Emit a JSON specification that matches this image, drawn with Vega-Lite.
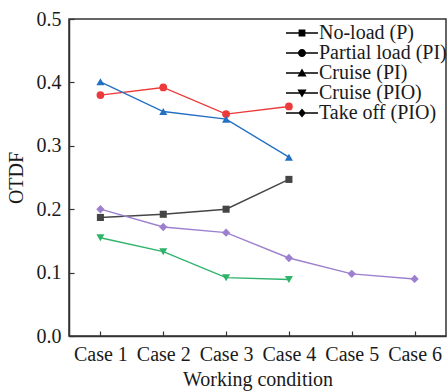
{
  "$schema": "https://vega.github.io/schema/vega-lite/v6.json",
  "width": 377,
  "height": 317,
  "autosize": "none",
  "padding": {"left": 69, "top": 19, "right": 2, "bottom": 55},
  "background": "white",
  "config": {
    "font": "Liberation Serif",
    "view": {"stroke": "#333333", "strokeWidth": 1.5},
    "axis": {
      "grid": false,
      "domainColor": "#333333",
      "domainWidth": 1.5,
      "tickColor": "#333333",
      "tickWidth": 1.2,
      "tickSize": -5,
      "labelFont": "Liberation Serif",
      "labelFontSize": 20,
      "labelColor": "#1a1a1a",
      "titleFont": "Liberation Serif",
      "titleFontSize": 20,
      "titleFontWeight": "normal",
      "titleColor": "#1a1a1a"
    }
  },
  "data": {
    "values": [
      {"series": "No-load (P)", "case": "Case 1", "otdf": 0.187},
      {"series": "No-load (P)", "case": "Case 2", "otdf": 0.192},
      {"series": "No-load (P)", "case": "Case 3", "otdf": 0.200},
      {"series": "No-load (P)", "case": "Case 4", "otdf": 0.247},
      {"series": "Partial load (PI)", "case": "Case 1", "otdf": 0.380},
      {"series": "Partial load (PI)", "case": "Case 2", "otdf": 0.392},
      {"series": "Partial load (PI)", "case": "Case 3", "otdf": 0.350},
      {"series": "Partial load (PI)", "case": "Case 4", "otdf": 0.362},
      {"series": "Cruise (PI)", "case": "Case 1", "otdf": 0.401},
      {"series": "Cruise (PI)", "case": "Case 2", "otdf": 0.354},
      {"series": "Cruise (PI)", "case": "Case 3", "otdf": 0.342},
      {"series": "Cruise (PI)", "case": "Case 4", "otdf": 0.282},
      {"series": "Cruise (PIO)", "case": "Case 1", "otdf": 0.155},
      {"series": "Cruise (PIO)", "case": "Case 2", "otdf": 0.133},
      {"series": "Cruise (PIO)", "case": "Case 3", "otdf": 0.092},
      {"series": "Cruise (PIO)", "case": "Case 4", "otdf": 0.089},
      {"series": "Take off (PIO)", "case": "Case 1", "otdf": 0.200},
      {"series": "Take off (PIO)", "case": "Case 2", "otdf": 0.172},
      {"series": "Take off (PIO)", "case": "Case 3", "otdf": 0.163},
      {"series": "Take off (PIO)", "case": "Case 4", "otdf": 0.123},
      {"series": "Take off (PIO)", "case": "Case 5", "otdf": 0.098},
      {"series": "Take off (PIO)", "case": "Case 6", "otdf": 0.090}
    ]
  },
  "encoding": {
    "x": {
      "field": "case",
      "type": "ordinal",
      "sort": ["Case 1", "Case 2", "Case 3", "Case 4", "Case 5", "Case 6"],
      "scale": {"type": "point", "padding": 0.5},
      "axis": {"title": "Working condition", "labelAngle": 0, "labelPadding": 13, "titlePadding": 5}
    },
    "y": {
      "field": "otdf",
      "type": "quantitative",
      "scale": {"domain": [0, 0.5], "nice": false},
      "axis": {"title": "OTDF", "values": [0, 0.1, 0.2, 0.3, 0.4, 0.5], "format": ".1f", "labelPadding": 13, "titlePadding": 10}
    },
    "color": {
      "field": "series",
      "type": "nominal",
      "scale": {
        "domain": ["No-load (P)", "Partial load (PI)", "Cruise (PI)", "Cruise (PIO)", "Take off (PIO)"],
        "range": ["#454545", "#ec3a3a", "#2470c4", "#2eb36b", "#9c80cf"]
      },
      "legend": null
    }
  },
  "layer": [
    {"mark": {"type": "line", "strokeWidth": 1.4}},
    {
      "transform": [{"filter": "datum.series == 'No-load (P)'"}],
      "mark": {"type": "point", "filled": true, "opacity": 1, "size": 50, "shape": "square"}
    },
    {
      "transform": [{"filter": "datum.series == 'Partial load (PI)'"}],
      "mark": {"type": "point", "filled": true, "opacity": 1, "size": 60, "shape": "circle"}
    },
    {
      "transform": [{"filter": "datum.series == 'Cruise (PI)'"}],
      "mark": {"type": "point", "filled": true, "opacity": 1, "size": 65, "shape": "triangle-up"}
    },
    {
      "transform": [{"filter": "datum.series == 'Cruise (PIO)'"}],
      "mark": {"type": "point", "filled": true, "opacity": 1, "size": 65, "shape": "triangle-down"}
    },
    {
      "transform": [{"filter": "datum.series == 'Take off (PIO)'"}],
      "mark": {"type": "point", "filled": true, "opacity": 1, "size": 70, "shape": "diamond"}
    },
    {
      "mark": {"type": "point", "filled": true, "fillOpacity": 0, "size": 64},
      "encoding": {
        "shape": {
          "field": "series",
          "type": "nominal",
          "scale": {
            "domain": ["No-load (P)", "Partial load (PI)", "Cruise (PI)", "Cruise (PIO)", "Take off (PIO)"],
            "range": [
              "M-4,-0.19H4V0.19H-4Z M-0.85,-0.85H0.85V0.85H-0.85Z",
              "M-4,-0.19H4V0.19H-4Z M-1,0A1,1 0 1,1 1,0A1,1 0 1,1 -1,0Z",
              "M-4,-0.19H4V0.19H-4Z M0,-1.1L1.15,0.85H-1.15Z",
              "M-4,-0.19H4V0.19H-4Z M0,1.1L-1.15,-0.85H1.15Z",
              "M-4,-0.19H4V0.19H-4Z M0,-1.15L0.95,0L0,1.15L-0.95,0Z"
            ]
          },
          "legend": {
            "title": null,
            "orient": "none",
            "legendX": 223,
            "legendY": 4,
            "padding": 0,
            "symbolSize": 64,
            "symbolStrokeWidth": 0,
            "labelFont": "Liberation Serif",
            "labelFontSize": 20,
            "labelColor": "#1a1a1a",
            "labelOffset": 7,
            "rowPadding": 0,
            "encode": {
              "symbols": {
                "fillOpacity": {"value": 1},
                "opacity": {"value": 1},
                "fill": {
                  "condition": [
                    {"test": "datum.value == 'Partial load (PI)'", "value": "#ec3a3a"},
                    {"test": "datum.value == 'Cruise (PI)'", "value": "#2470c4"},
                    {"test": "datum.value == 'Cruise (PIO)'", "value": "#2eb36b"},
                    {"test": "datum.value == 'Take off (PIO)'", "value": "#9c80cf"}
                  ],
                  "value": "#454545"
                }
              }
            }
          }
        }
      }
    }
  ],
  "resolve": {"scale": {"shape": "independent"}}
}
